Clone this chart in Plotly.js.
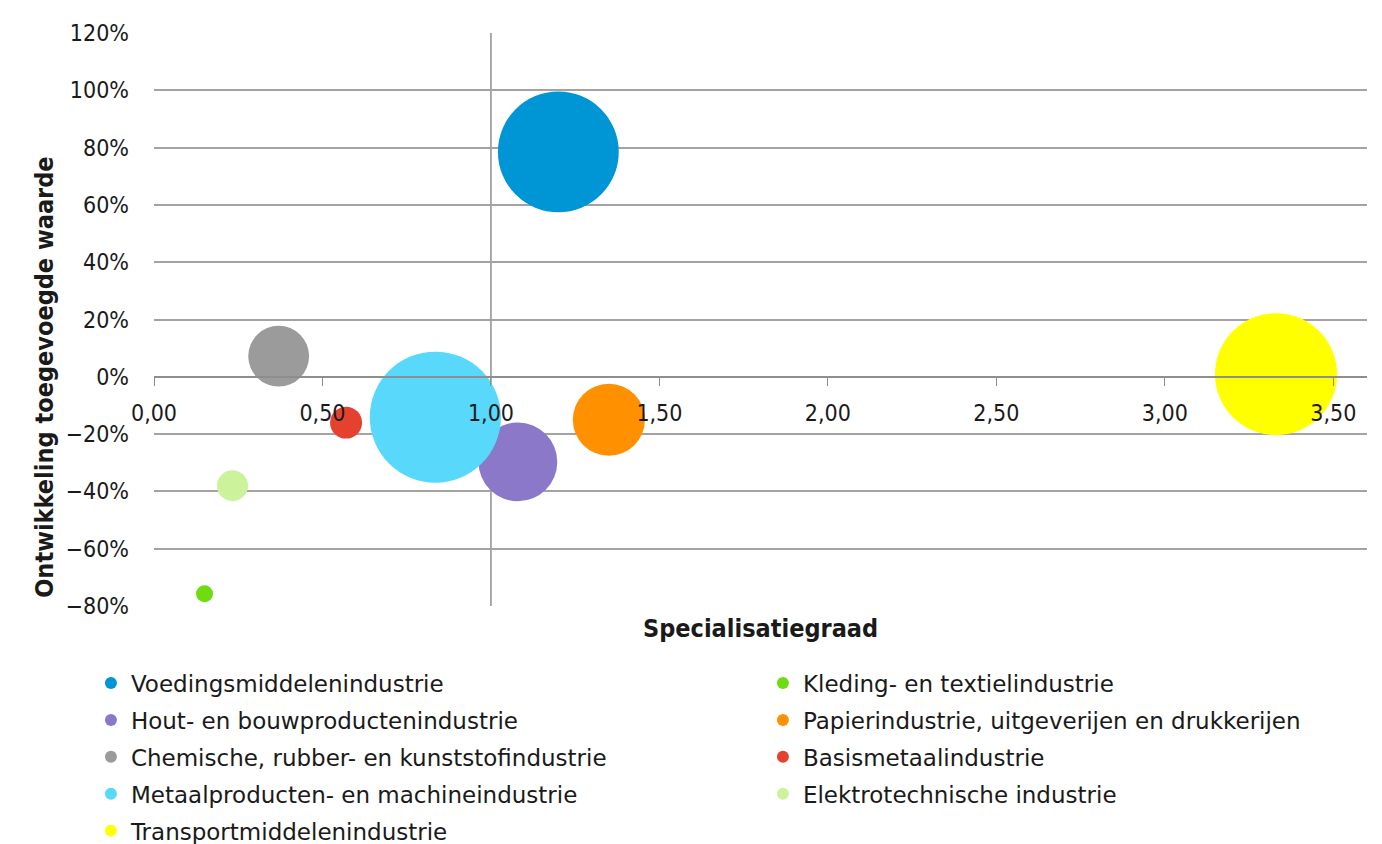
<!DOCTYPE html>
<html>
<head>
<meta charset="utf-8">
<script src="https://cdn.plot.ly/plotly-3.0.1.min.js"></script>
<style>
  html, body { margin: 0; padding: 0; background: #ffffff; }
  #chart { width: 1382px; height: 844px; }
</style>
</head>
<body>
<div id="chart"></div>
<script>
// ---- Data ----
const sectors = [
  "Voedingsmiddelenindustrie",
  "Kleding- en textielindustrie",
  "Hout- en bouwproductenindustrie",
  "Papierindustrie, uitgeverijen en drukkerijen",
  "Chemische, rubber- en kunststofindustrie",
  "Basismetaalindustrie",
  "Metaalproducten- en machineindustrie",
  "Elektrotechnische industrie",
  "Transportmiddelenindustrie"
];
// Specialisatiegraad (x)
const specialisatie = [1.20, 0.15, 1.08, 1.35, 0.37, 0.57, 0.835, 0.233, 3.33];
// Ontwikkeling toegevoegde waarde (y, fraction)
const ontwikkeling = [0.785, -0.757, -0.297, -0.15, 0.072, -0.16, -0.141, -0.38, 0.009];
// Bubble size (relative area)
const bubbleSize = [146, 2.9, 62, 52, 37, 10.2, 172, 9.6, 149];
const colors = ["#0096d6", "#6fdc12", "#8b78c9", "#ff9100", "#9b9b9b", "#e4422e", "#58d8fa", "#cdf29c", "#ffff00"];
// Legend column of each sector (1 = left, 2 = right)
const legendColumn = [1, 2, 1, 2, 1, 2, 1, 2, 1];

const xTitle = "Specialisatiegraad";
const yTitle = "Ontwikkeling toegevoegde waarde";
const xRange = [0, 3.6];
const yRange = [-0.8, 1.2];
const xCross = 1.0;   // vertical axis crosses here
const yCross = 0.0;   // horizontal axis crosses here

// ---- Chart ----
const FONT_C = "'DejaVu Sans Condensed', 'DejaVu Sans', sans-serif";
const FONT_L = "'DejaVu Sans', sans-serif";
const TXT = "#1a1a1a";

const traces = sectors.map((name, i) => ({
  type: "scatter",
  mode: "markers",
  name: name,
  legend: legendColumn[i] === 1 ? "legend" : "legend2",
  legendgroup: "g" + i,
  x: [specialisatie[i]],
  y: [ontwikkeling[i]],
  marker: {
    size: [bubbleSize[i]],
    sizemode: "area",
    sizeref: 0.02,
    color: colors[i],
    opacity: 1,
    line: { width: 0 }
  },
  hoverinfo: "name+x+y"
}));

const legendStyle = {
  orientation: "v",
  xanchor: "left",
  yanchor: "top",
  y: -0.097,
  itemsizing: "constant",
  traceorder: "grouped",
  tracegroupgap: 4,
  font: { family: FONT_L, size: 23, color: TXT },
  bgcolor: "rgba(0,0,0,0)",
  borderwidth: 0
};

const layout = {
  width: 1382,
  height: 844,
  paper_bgcolor: "#ffffff",
  plot_bgcolor: "#ffffff",
  separators: ",.",
  margin: { l: 154, r: 15, t: 33, b: 238, autoexpand: false },
  font: { family: FONT_C, size: 22, color: TXT },
  showlegend: true,
  xaxis: {
    range: xRange,
    dtick: 0.5,
    tick0: 0,
    tickformat: ".2f",
    showgrid: false,
    zeroline: false,
    showline: true,
    linecolor: "#8e8e8e",
    linewidth: 1.5,
    ticks: "outside",
    ticklen: 8,
    tickwidth: 1,
    tickcolor: "#8e8e8e",
    ticklabelstandoff: 8,
    anchor: "free",
    position: (yCross - yRange[0]) / (yRange[1] - yRange[0]),
    tickfont: { family: FONT_C, size: 23, color: TXT },
    fixedrange: true,
    automargin: false
  },
  yaxis: {
    range: yRange,
    dtick: 0.2,
    tick0: 0,
    tickformat: ".0%",
    showgrid: true,
    gridcolor: "#a3a3a3",
    gridwidth: 1.6,
    zeroline: false,
    showline: false,
    ticks: "",
    ticklabelstandoff: 24,
    tickfont: { family: FONT_C, size: 23, color: TXT },
    fixedrange: true,
    automargin: false
  },
  shapes: [{
    type: "line",
    xref: "x", yref: "y",
    x0: xCross, x1: xCross,
    y0: yRange[0], y1: yRange[1],
    line: { color: "#8e8e8e", width: 1.5 },
    layer: "below"
  }],
  annotations: [
    {
      text: yTitle,
      xref: "paper", yref: "paper",
      x: -0.0899, y: 0.4,
      xanchor: "center", yanchor: "middle",
      textangle: -90,
      showarrow: false,
      font: { family: FONT_C, size: 25, color: TXT, weight: "bold" }
    },
    {
      text: xTitle,
      xref: "paper", yref: "paper",
      x: 0.5, y: -0.040,
      xanchor: "center", yanchor: "middle",
      showarrow: false,
      font: { family: FONT_C, size: 25, color: TXT, weight: "bold" }
    }
  ],
  legend: Object.assign({}, legendStyle, { x: -0.052 }),
  legend2: Object.assign({}, legendStyle, { x: 0.502 }),
  hovermode: "closest"
};

Plotly.newPlot("chart", traces, layout, { displayModeBar: false });
</script>
</body>
</html>
